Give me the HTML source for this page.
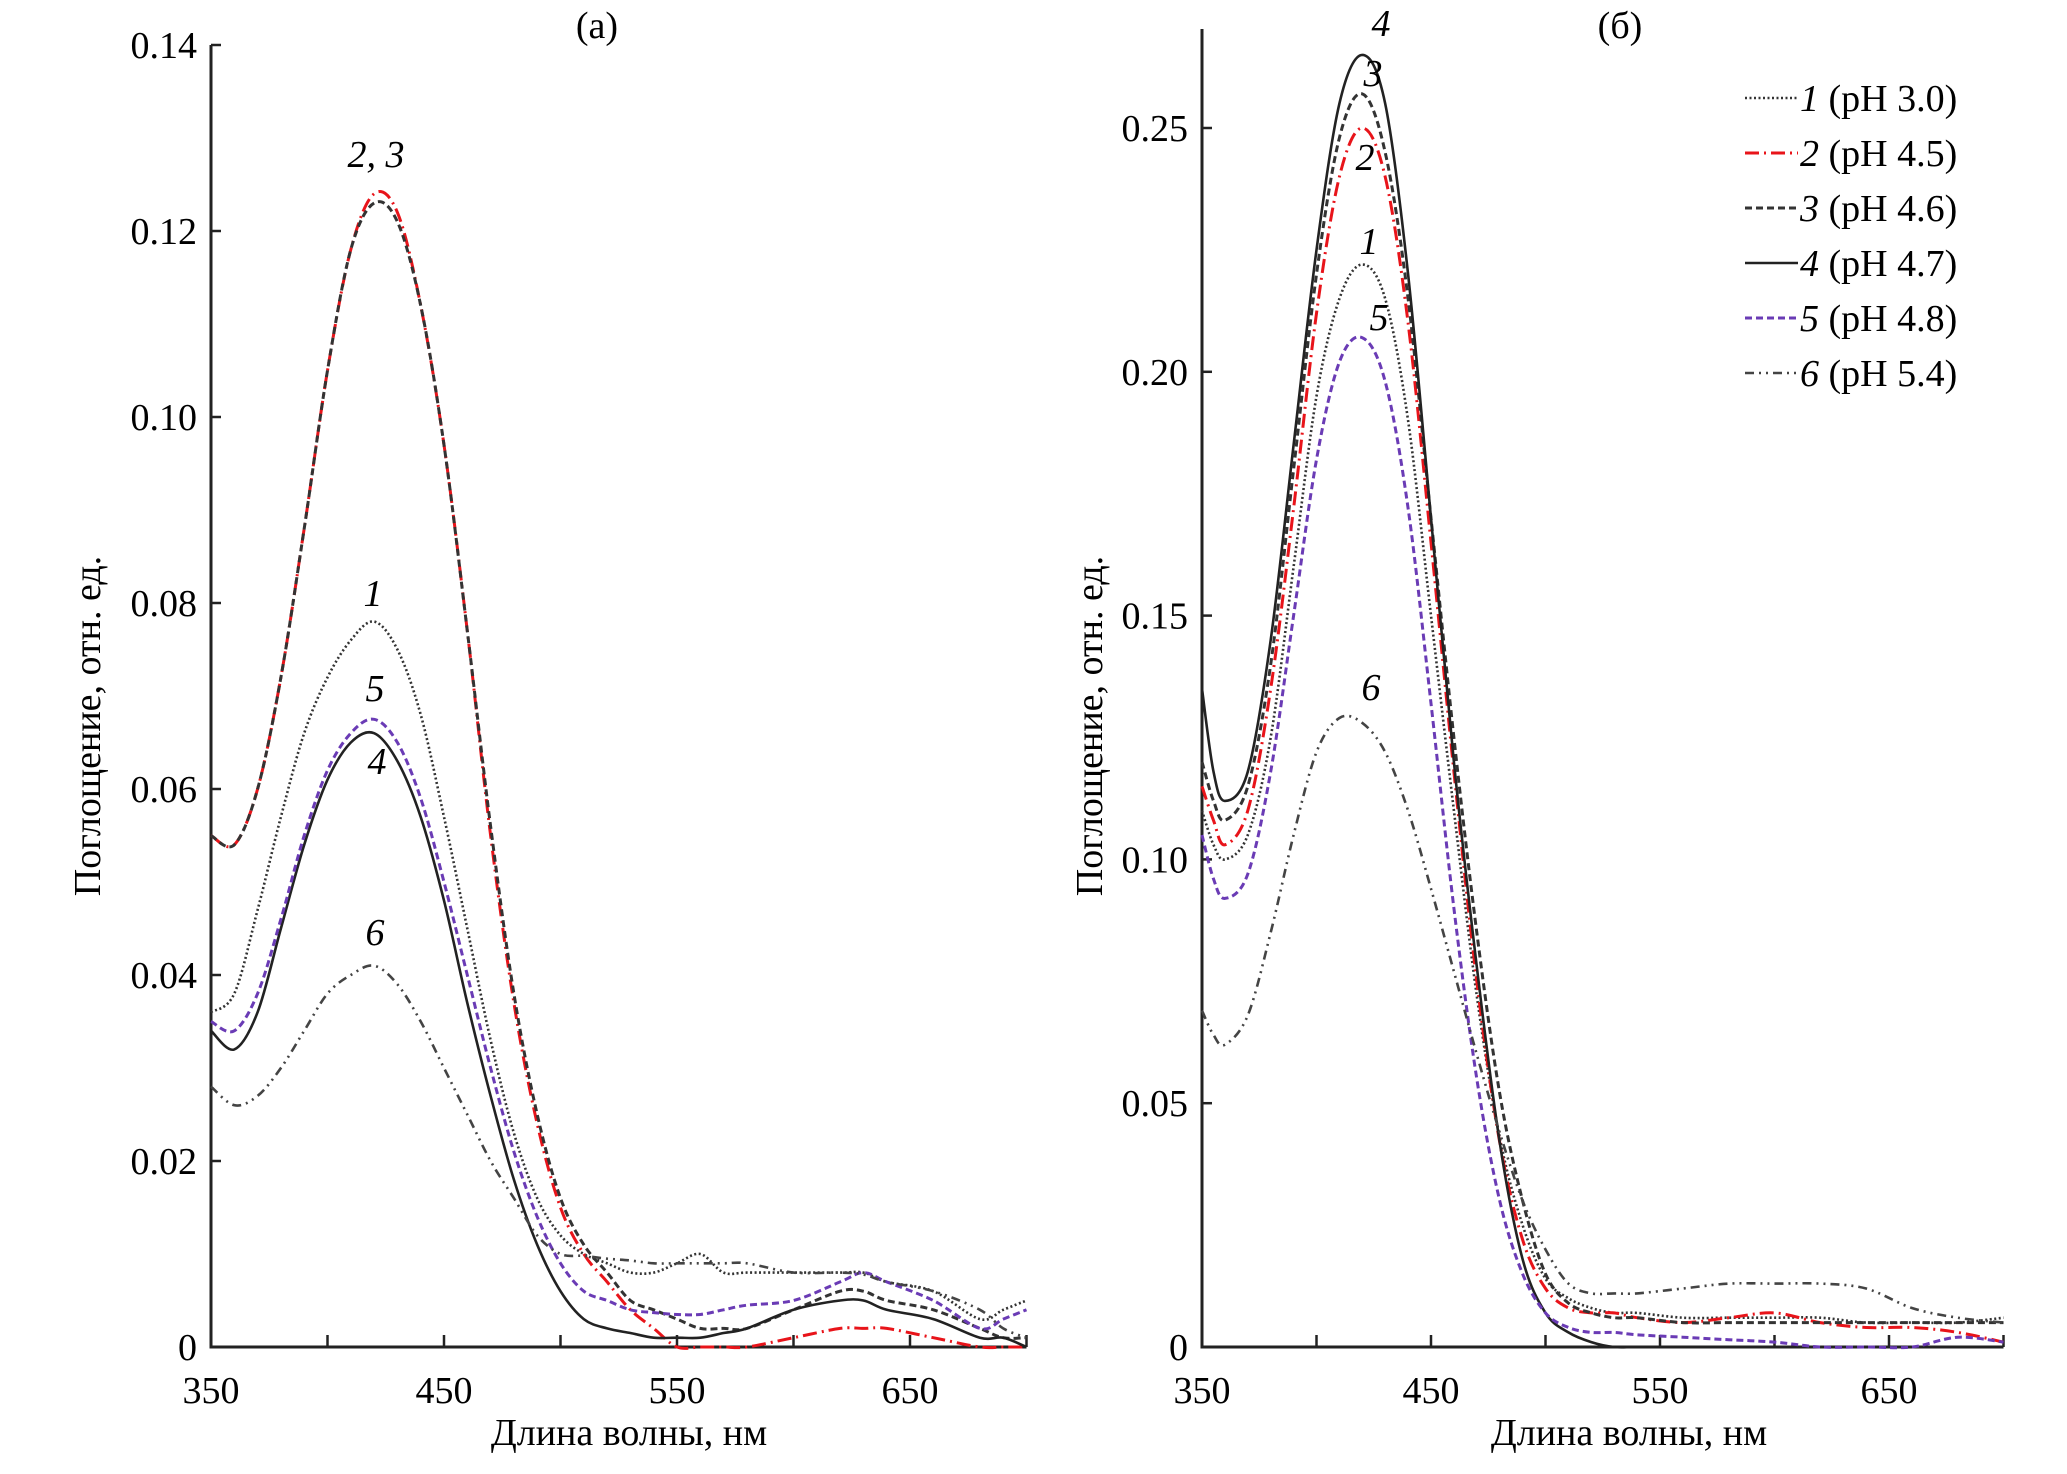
<!DOCTYPE html>
<html><head><meta charset="utf-8"><style>
html,body{margin:0;padding:0;background:#fff;}
svg{display:block;font-family:"Liberation Serif",serif;}
</style></head><body>
<svg id="chart" width="2067" height="1474" viewBox="0 0 2067 1474" xmlns="http://www.w3.org/2000/svg"></svg>
<script>
// ---- data ----
const wlA = [350,360,370,380,390,400,410,420,430,440,450,460,470,480,490,500,510,520,530,540,550,560,570,580,600,620,630,640,660,680,690,700];
const a1 = [0.036,0.038,0.047,0.057,0.066,0.072,0.076,0.078,0.075,0.068,0.057,0.045,0.033,0.023,0.016,0.012,0.010,0.009,0.008,0.008,0.009,0.010,0.008,0.008,0.008,0.008,0.008,0.007,0.006,0.003,0.004,0.005];
const a2 = [0.055,0.054,0.060,0.072,0.088,0.105,0.118,0.124,0.122,0.112,0.097,0.077,0.055,0.037,0.024,0.015,0.010,0.007,0.004,0.002,0.000,0.000,0.000,0.000,0.001,0.002,0.002,0.002,0.001,0.000,0.000,0.000];
const a3 = [0.055,0.054,0.060,0.072,0.088,0.105,0.118,0.123,0.121,0.112,0.097,0.077,0.056,0.038,0.025,0.016,0.011,0.008,0.005,0.004,0.003,0.002,0.002,0.002,0.004,0.006,0.006,0.005,0.004,0.002,0.001,0.001];
const a4 = [0.034,0.032,0.036,0.045,0.054,0.061,0.065,0.066,0.063,0.057,0.048,0.037,0.027,0.018,0.011,0.006,0.003,0.002,0.0015,0.001,0.001,0.001,0.0015,0.002,0.004,0.005,0.005,0.004,0.003,0.001,0.001,0.000];
const a5 = [0.035,0.034,0.038,0.046,0.055,0.062,0.066,0.0675,0.065,0.059,0.050,0.040,0.030,0.021,0.014,0.009,0.006,0.005,0.004,0.0037,0.0035,0.0035,0.004,0.0045,0.005,0.007,0.008,0.007,0.005,0.002,0.003,0.004];
const a6 = [0.028,0.026,0.027,0.030,0.034,0.038,0.040,0.041,0.039,0.035,0.030,0.025,0.020,0.016,0.012,0.010,0.0098,0.0095,0.0093,0.009,0.009,0.009,0.009,0.009,0.008,0.008,0.0078,0.007,0.006,0.004,0.002,0.001];

const wlB = [350,355,360,370,380,390,400,410,420,430,440,450,460,470,480,490,500,510,520,530,540,560,580,600,620,640,660,680,700];
const b1 = [0.110,0.103,0.100,0.105,0.125,0.160,0.195,0.215,0.222,0.215,0.190,0.150,0.110,0.072,0.043,0.025,0.014,0.010,0.008,0.007,0.007,0.006,0.006,0.006,0.006,0.005,0.005,0.005,0.006];
const b2 = [0.115,0.108,0.103,0.110,0.135,0.172,0.212,0.240,0.250,0.240,0.210,0.165,0.118,0.075,0.042,0.022,0.012,0.008,0.007,0.007,0.006,0.005,0.006,0.007,0.005,0.004,0.004,0.003,0.001];
const b3 = [0.120,0.112,0.108,0.115,0.140,0.180,0.220,0.248,0.257,0.245,0.215,0.170,0.125,0.085,0.052,0.030,0.015,0.009,0.007,0.006,0.006,0.005,0.005,0.005,0.005,0.005,0.005,0.005,0.005];
const b4 = [0.135,0.118,0.112,0.118,0.145,0.185,0.225,0.255,0.265,0.255,0.220,0.170,0.120,0.078,0.042,0.018,0.007,0.003,0.001,0.000,0.000,0.000,0.000,0.000,0.000,0.000,0.000,0.000,0.000];
const b5 = [0.105,0.096,0.092,0.097,0.118,0.150,0.182,0.202,0.207,0.198,0.172,0.132,0.090,0.055,0.030,0.015,0.007,0.004,0.003,0.003,0.0025,0.002,0.0015,0.001,0.000,0.000,0.000,0.002,0.001];
const b6 = [0.069,0.064,0.062,0.068,0.085,0.105,0.122,0.129,0.128,0.122,0.110,0.094,0.077,0.060,0.044,0.030,0.020,0.013,0.011,0.011,0.011,0.012,0.013,0.013,0.013,0.012,0.008,0.006,0.005];

const xTicks = [350,450,550,650];
const yTicksA = [0,0.02,0.04,0.06,0.08,0.10,0.12,0.14];
const yTicksALabels = ["0","0.02","0.04","0.06","0.08","0.10","0.12","0.14"];
const yTicksB = [0,0.05,0.10,0.15,0.20,0.25];
const yTicksBLabels = ["0","0.05","0.10","0.15","0.20","0.25"];
const legendLabels = ["1","2","3","4","5","6"];
const legendPH = ["(pH 3.0)","(pH 4.5)","(pH 4.6)","(pH 4.7)","(pH 4.8)","(pH 5.4)"];

// ---- styles ----
const styles = [
  {c:"#333", w:2.6, d:"2,2.5"},
  {c:"#e8141a", w:3, d:"14,5,2,5"},
  {c:"#333", w:3, d:"7,4"},
  {c:"#222", w:2.6, d:""},
  {c:"#6a3bb5", w:3, d:"7,4"},
  {c:"#444", w:2.6, d:"9,5,2,5,2,5"}
];

const NS = "http://www.w3.org/2000/svg";
const svg = document.getElementById('chart');
function mk(tag, attrs, parent){
  const e = document.createElementNS(NS, tag);
  for (const k in attrs) e.setAttribute(k, attrs[k]);
  (parent||svg).appendChild(e);
  return e;
}
function smoothPath(pts){
  let d = 'M' + pts[0][0].toFixed(1) + ',' + pts[0][1].toFixed(1);
  for (let i=0;i<pts.length-1;i++){
    const p0 = pts[i-1]||pts[i], p1 = pts[i], p2 = pts[i+1], p3 = pts[i+2]||p2;
    const c1x = p1[0] + (p2[0]-p0[0])/6, c1y = p1[1] + (p2[1]-p0[1])/6;
    const c2x = p2[0] - (p3[0]-p1[0])/6, c2y = p2[1] - (p3[1]-p1[1])/6;
    d += ` C${c1x.toFixed(1)},${c1y.toFixed(1)} ${c2x.toFixed(1)},${c2y.toFixed(1)} ${p2[0].toFixed(1)},${p2[1].toFixed(1)}`;
  }
  return d;
}

function panel(cfg){
  const g = mk('g', {});
  
  
  const X = v => cfg.x0 + (v - 350) * cfg.xs;
  const Y = v => cfg.y0 - v * cfg.ys;
  const ax = mk('path', {d:`M${X(350)},${cfg.yTop} L${X(350)},${cfg.y0} L${X(700)},${cfg.y0}`, fill:"none", stroke:"#222", "stroke-width":3}, g);
  
  
  for (let v=350; v<=700; v+=50){
    const t = mk('line', {x1:X(v), x2:X(v), y1:cfg.y0, y2:cfg.y0-12, stroke:"#222", "stroke-width":2.5}, g);
    
    
  }
  xTicks.forEach(v=>{
    const t = mk('text', {x:X(v), y:cfg.y0+56, "text-anchor":"middle", "font-size":38}, g);
    t.textContent = String(v);
    
    
  });
  cfg.yt.forEach((v,i)=>{
    const t = mk('line', {x1:X(350), x2:X(350)+10, y1:Y(v), y2:Y(v), stroke:"#222", "stroke-width":2.5}, g);
    
    
    const l = mk('text', {x:X(350)-14, y:Y(v)+13, "text-anchor":"end", "font-size":38}, g);
    l.textContent = cfg.ytl[i];
    
    
  });
  const xt = mk('text', {x:cfg.xtX, y:1445, "text-anchor":"middle", "font-size":38}, g);
  xt.textContent = "Длина волны, нм";
  
  
  const yt = mk('text', {x:0, y:0, "text-anchor":"middle", "font-size":38, transform:`translate(${cfg.ytX},726) rotate(-90)`}, g);
  yt.textContent = "Поглощение, отн. ед.";
  
  
  const pt = mk('text', {x:cfg.ptX, y:38, "text-anchor":"middle", "font-size":38}, g);
  pt.textContent = cfg.title;
  
  
  cfg.series.forEach((s,i)=>{
    const st = styles[i];
    const pts = s.map((v,j)=>[X(cfg.wl[j]), Y(v)]);
    const p = mk('path', {d:smoothPath(pts), fill:"none", stroke:st.c, "stroke-width":st.w, "stroke-dasharray":st.d, "stroke-linejoin":"round"}, g);
    
    
  });
  cfg.ann.forEach(a=>{
    const t = mk('text', {x:a[1], y:a[2], "text-anchor":"middle", "font-size":38, "font-style":"italic"}, g);
    t.textContent = a[0];
    
    
  });
}

panel({name:"panel-a", x0:211, xs:2.33, y0:1347, ys:9300, yTop:45, yt:yTicksA, ytl:yTicksALabels,
  wl:wlA, series:[a1,a2,a3,a4,a5,a6], xtX:629, ytX:100, ptX:597, title:"(a)",
  ann:[["2, 3",376,167],["1",373,606],["5",375,701],["4",377,774],["6",375,945]]});
panel({name:"panel-b", x0:1202, xs:2.29, y0:1347, ys:4876, yTop:29, yt:yTicksB, ytl:yTicksBLabels,
  wl:wlB, series:[b1,b2,b3,b4,b5,b6], xtX:1629, ytX:1102, ptX:1620, title:"(б)",
  ann:[["4",1381,36],["3",1373,86],["2",1365,170],["1",1369,254],["5",1379,330],["6",1371,700]]});

const lg = mk('g', {});


legendLabels.forEach((lab,i)=>{
  const y = 98 + i*55;
  const st = styles[i];
  const ln = mk('line', {x1:1745, x2:1798, y1:y, y2:y, stroke:st.c, "stroke-width":st.w, "stroke-dasharray":st.d}, lg);
  
  
  const t = mk('text', {x:1800, y:y+13, "font-size":38}, lg);
  
  
  const n = mk('tspan', {"font-style":"italic"}, t);
  n.textContent = lab;
  const r = mk('tspan', {}, t);
  r.textContent = " " + legendPH[i];
});
</script>
</body></html>
